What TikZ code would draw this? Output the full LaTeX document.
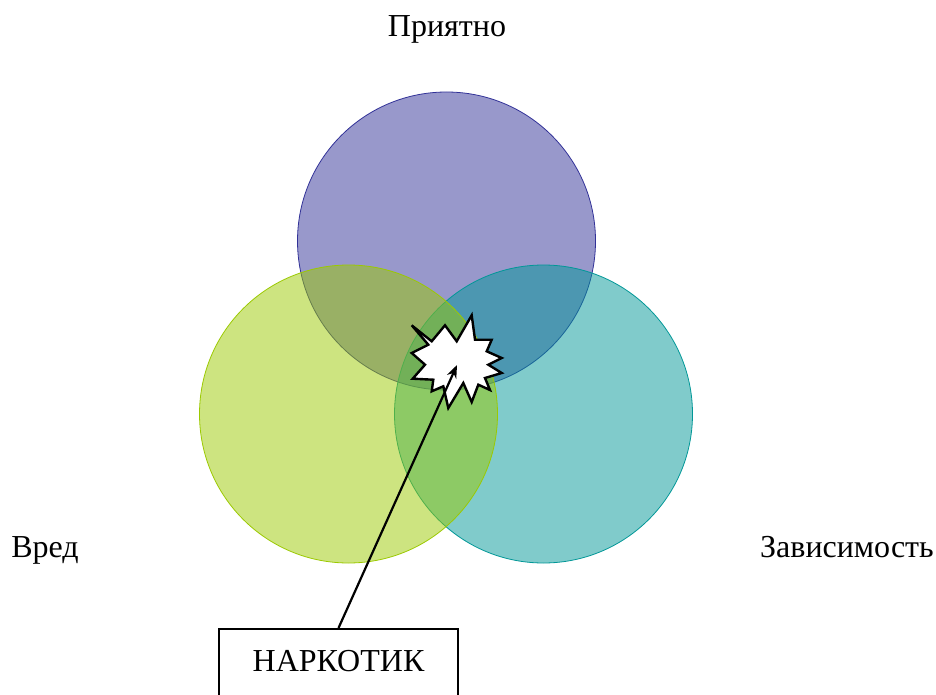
\documentclass[tikz,border=0pt]{standalone}
\usepackage{fontspec}
\setmainfont{Liberation Serif}
\usepackage{tikz}
\usetikzlibrary{arrows.meta,positioning,calc}
\usepackage{xcolor}

\definecolor{pleasantcol}{RGB}{49,49,151}
\definecolor{harmcol}{RGB}{155,201,1}
\definecolor{addictcol}{RGB}{1,151,151}

\tikzset{
  venn/.style={draw=#1, fill=#1, fill opacity=0.5, line width=0.8pt},
  caption/.style={font=\fontsize{32}{38}\selectfont, inner sep=0pt, anchor=base}
}

\begin{document}
\begin{tikzpicture}[x=1pt,y=-1pt]
            \useasboundingbox (0,0) rectangle (936,695);
            \clip (0,0) rectangle (936,695);
            % Circles
            \path[venn=pleasantcol] (446.5,241) circle (149);
            \path[venn=addictcol] (543.5,414) circle (149);
            \path[venn=harmcol] (348.5,414) circle (149);
            % Labels
            \node[caption] (pleasant) at (447,37) {Приятно};
            \node[caption] (harm) at (45,557) {Вред};
            \node[caption] (addict) at (847,557) {Зависимость};
            % Burst
            \draw[fill=white, line width=2.4pt, line join=miter]
                (411.7,325.3) -- (431.7,341.3) -- (445,325.3) -- (456.7,341.3)
                -- (471.7,315.3) -- (475,339.7) -- (491.7,339.7) -- (486.7,351.3)
                -- (501.7,358) -- (488.3,364.7) -- (501.7,373) -- (485,378)
                -- (490,390) -- (478.3,384.7) -- (471.7,402) -- (463.3,383)
                -- (448.3,408) -- (443.3,386.3) -- (431.7,391.3) -- (433.3,379.7)
                -- (412.7,378.7) -- (425,364.7) -- (411.7,353) -- (428.3,344.7)
                -- cycle;
            \coordinate (burst) at (457,365);
            % Drug box
            \node[draw, line width=1.8pt, font=\fontsize{32}{38}\selectfont,
                  minimum width=239pt, text height=22pt, text depth=40pt,
                  inner xsep=0pt, inner ysep=21pt, anchor=north]
                (drug) at (338.5,628) {НАРКОТИК};
            \draw[-{Stealth[length=13pt,width=10pt]}, line width=2.2pt] (drug.north) -- (burst);
        \end{tikzpicture}
\end{document}
